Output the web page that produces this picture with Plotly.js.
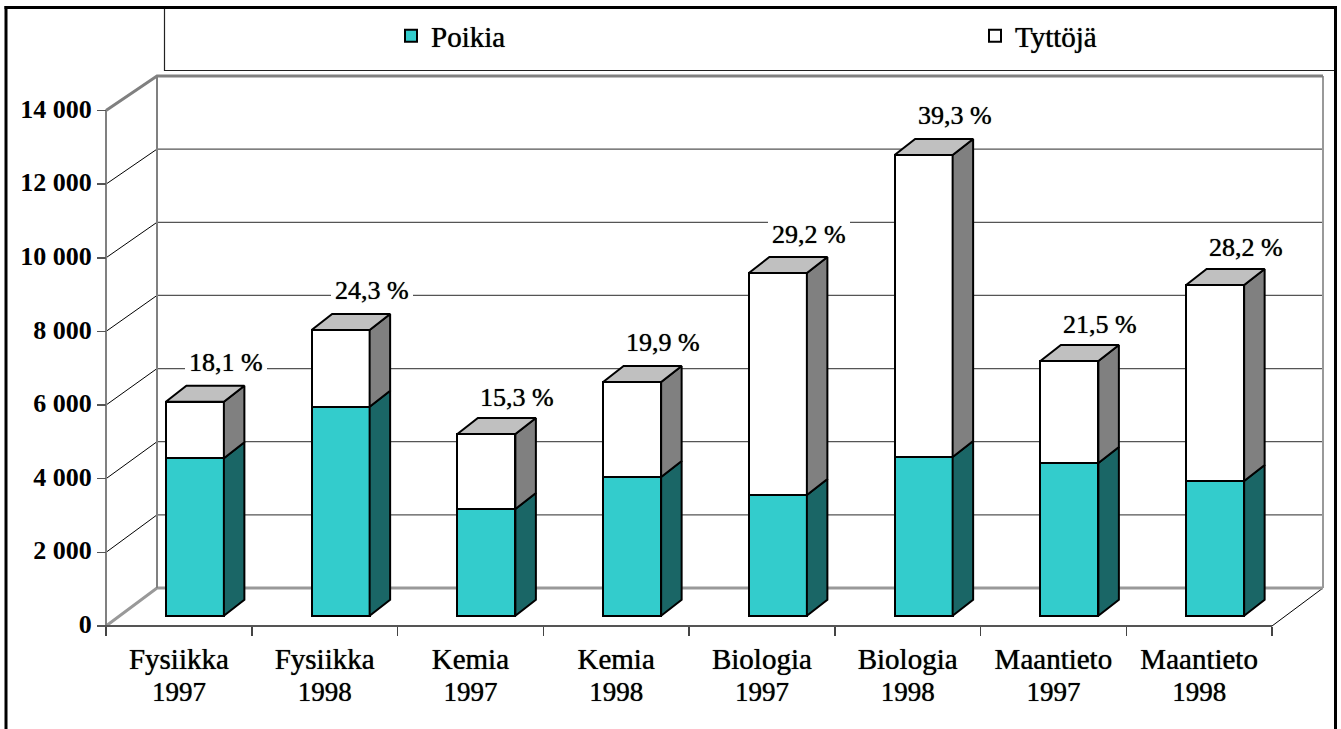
<!DOCTYPE html>
<html><head><meta charset="utf-8">
<script src="https://cdn.plot.ly/plotly-3.0.1.min.js"></script>
<style>html,body{margin:0;padding:0;background:#fff;overflow:hidden}</style></head>
<body><div id="chart" style="width:1341px;height:729px"></div>
<script>
const subjects=["Fysiikka","Fysiikka","Kemia","Kemia","Biologia","Biologia","Maantieto","Maantieto"];
const years=["1997","1998","1997","1998","1997","1998","1997","1998"];
const boys=[4275,5676,2898,3767,3278,4310,4147,3658];
const girls=[1537,2084,2037,2580,6029,8202,2770,5324];
const percents=["18,1 %","24,3 %","15,3 %","19,9 %","29,2 %","39,3 %","21,5 %","28,2 %"];
const yTicks=[0,2000,4000,6000,8000,10000,12000,14000];
const yTickText=["0","2 000","4 000","6 000","8 000","10 000","12 000","14 000"];

const W=1341,H=729;
const P={l:100,r:1330,t:70,b:634};
const x0px=106,unit=145.75,y0px=626,s=515.5/14000;
const barY0px=615.7,barShiftPx=16;
const depthX=20.5/unit,depthY=16/s;
const backX=51/unit,backY=38/s,backK=512/515.5;
const serif='"Liberation Serif",serif';
const heavy='0 0 0.8px rgba(0,0,0,0.9)';
const labelNudgePx=[0,0,-3,0,-1,0,-3,-2];
const n=subjects.length;
const xRange=[(P.l-x0px)/unit,(P.r-x0px)/unit];
const yRange=[(y0px-P.b)/s,(y0px-P.t)/s];
const x2Range=[(P.l-x0px-barShiftPx)/unit,(P.r-x0px-barShiftPx)/unit];
const y2Range=[(barY0px-P.b)/s,(barY0px-P.t)/s];
const centers=subjects.map((_,i)=>i+0.5);
const totals=boys.map((b,i)=>b+girls[i]);
const hw=0.199;

function polys(fn){const X=[],Y=[];centers.forEach((c,i)=>{const p=fn(c,i);p.forEach(q=>{X.push(q[0]);Y.push(q[1]);});X.push(null);Y.push(null);});return {x:X,y:Y};}
function face(d,color){return Object.assign({type:'scatter',mode:'lines',xaxis:'x2',yaxis:'y2',fill:'toself',fillcolor:color,line:{color:'#000',width:2},showlegend:false,hoverinfo:'skip'},d);}
const side=(lo,hi)=>polys((c,i)=>{const a=lo[i],b=hi[i],r=c+hw;return [[r,a],[r+depthX,a+depthY],[r+depthX,b+depthY],[r,b],[r,a]];});
const zeros=boys.map(()=>0);
const sideBoys=face(side(zeros,boys),'#1A6666');
const sideGirls=face(side(boys,totals),'#808080');
const tops=face(polys((c,i)=>{const t=totals[i];return [[c-hw,t],[c-hw+depthX,t+depthY],[c+hw+depthX,t+depthY],[c+hw,t],[c-hw,t]];}),'#C0C0C0');

function seg(pts,color,width){return {type:'scatter',mode:'lines',x:pts.map(p=>p[0]),y:pts.map(p=>p[1]),line:{color,width},showlegend:false,hoverinfo:'skip',xaxis:'x',yaxis:'y'};}
const gridPts=[],diagPts=[];
yTicks.slice(1,-1).forEach(v=>{const by=v*backK+backY;
  diagPts.push([0,v],[backX,by],[null,null]);
  gridPts.push([backX,by],[n+backX,by],[null,null]);});
const topBack=14000*backK+backY;
const walls=[
 seg(diagPts,'#000',1),
 seg(gridPts,'#555',1.3),
 seg([[n,0],[n+backX,backY]],'#000',1),
 seg([[0,0],[backX,backY],[n+backX,backY]],'#999',3),
 seg([[backX,backY],[backX,topBack]],'#808080',2),
 seg([[n+backX,backY],[n+backX,topBack]],'#999',2),
 seg([[0,14000],[backX,topBack],[n+backX,topBack]],'#808080',3),
 seg([[0,0],[0,14000]],'#808080',2),
 seg([[0,0],[n,0]],'#555',2)
];
const axisCarrier={type:'scatter',mode:'none',x:centers,y:zeros,xaxis:'x3',yaxis:'y',showlegend:false,hoverinfo:'skip'};

const barBoys={type:'bar',name:'Poikia',legend:'legend',x:centers,y:boys,xaxis:'x2',yaxis:'y2',width:2*hw,marker:{color:'#33CCCC',line:{color:'#000',width:2}},hoverinfo:'skip'};
const barGirls={type:'bar',name:'Tyttöjä',legend:'legend2',x:centers,y:girls,xaxis:'x2',yaxis:'y2',width:2*hw,marker:{color:'#FFFFFF',line:{color:'#000',width:2}},hoverinfo:'skip'};

const annotations=percents.map((t,i)=>({xref:'x2',yref:'y2',x:centers[i]+31/unit,y:totals[i]+depthY+23.5/s,yshift:labelNudgePx[i],text:t,showarrow:false,bgcolor:'#fff',borderpad:4,borderwidth:0,font:{family:serif,size:26,color:'#000',shadow:heavy},xanchor:'center',yanchor:'middle'}));

const px=v=>v/W, py=v=>1-v/H;
const blackLine=w=>({color:'#000',width:w});
const shapes=[
 {type:'rect',xref:'paper',yref:'paper',x0:px(164.5),x1:px(1336),y0:py(70.5),y1:py(8),line:{color:'#222',width:1.2},fillcolor:'rgba(0,0,0,0)',layer:'below'},
 {type:'line',xref:'paper',yref:'paper',x0:px(6),x1:px(6),y0:0,y1:py(6),line:blackLine(3)},
 {type:'line',xref:'paper',yref:'paper',x0:px(4.5),x1:px(1337),y0:py(7.5),y1:py(7.5),line:blackLine(3)},
 {type:'line',xref:'paper',yref:'paper',x0:px(1335.5),x1:px(1335.5),y0:0,y1:py(6),line:blackLine(3)}
];

const hiddenAxis={visible:false,fixedrange:true};
const legendBase={orientation:'h',xanchor:'left',yanchor:'middle',bgcolor:'rgba(0,0,0,0)',borderwidth:0,font:{family:serif,size:29,color:'#000',shadow:heavy},itemclick:false,itemdoubleclick:false};
const layout={
 width:W,height:H,margin:{l:0,r:0,t:0,b:0,pad:0,autoexpand:false},paper_bgcolor:'#fff',plot_bgcolor:'rgba(0,0,0,0)',
 barmode:'stack',shapes,annotations,
 font:{family:serif,color:'#000'},
 xaxis:{domain:[px(P.l),px(P.r)],range:xRange,anchor:'free',position:py(y0px),showgrid:false,zeroline:false,showline:false,
   tickmode:'array',tickvals:centers,ticktext:subjects,ticks:'',ticklen:0,tickangle:0,tickfont:{family:serif,size:29,color:'#000',shadow:heavy},ticklabelstandoff:13,
   minor:{tickmode:'array',tickvals:[0,1,2,3,4,5,6,7,8],ticks:'outside',ticklen:9,tickwidth:1.5,tickcolor:'#444',showgrid:false},fixedrange:true},
 yaxis:{domain:[py(P.b),py(P.t)],range:yRange,anchor:'free',position:px(x0px),side:'left',showgrid:false,zeroline:false,showline:false,
   tickmode:'array',tickvals:yTicks,ticktext:yTickText,ticks:'outside',ticklen:9,tickwidth:1.5,tickcolor:'#555',tickfont:{family:serif,size:26,color:'#000',weight:'bold'},ticklabelshift:-2,fixedrange:true},
 xaxis2:Object.assign({overlaying:'x',range:x2Range,anchor:'y2'},hiddenAxis),
 yaxis2:Object.assign({overlaying:'y',range:y2Range,anchor:'x2'},hiddenAxis),
 xaxis3:{overlaying:'x',range:xRange,anchor:'free',position:py(y0px),showgrid:false,zeroline:false,showline:false,
   tickmode:'array',tickvals:centers,ticktext:years,ticks:'',ticklen:0,tickangle:0,tickfont:{family:serif,size:27,color:'#000',shadow:heavy},ticklabelstandoff:47,fixedrange:true},
 showlegend:true,
 legend:Object.assign({x:px(391),y:py(36)},legendBase),
 legend2:Object.assign({x:px(975),y:py(36)},legendBase)
};
Plotly.newPlot('chart',[...walls,axisCarrier,barBoys,barGirls,sideBoys,sideGirls,tops],layout,{displayModeBar:false,staticPlot:true});
</script></body></html>
